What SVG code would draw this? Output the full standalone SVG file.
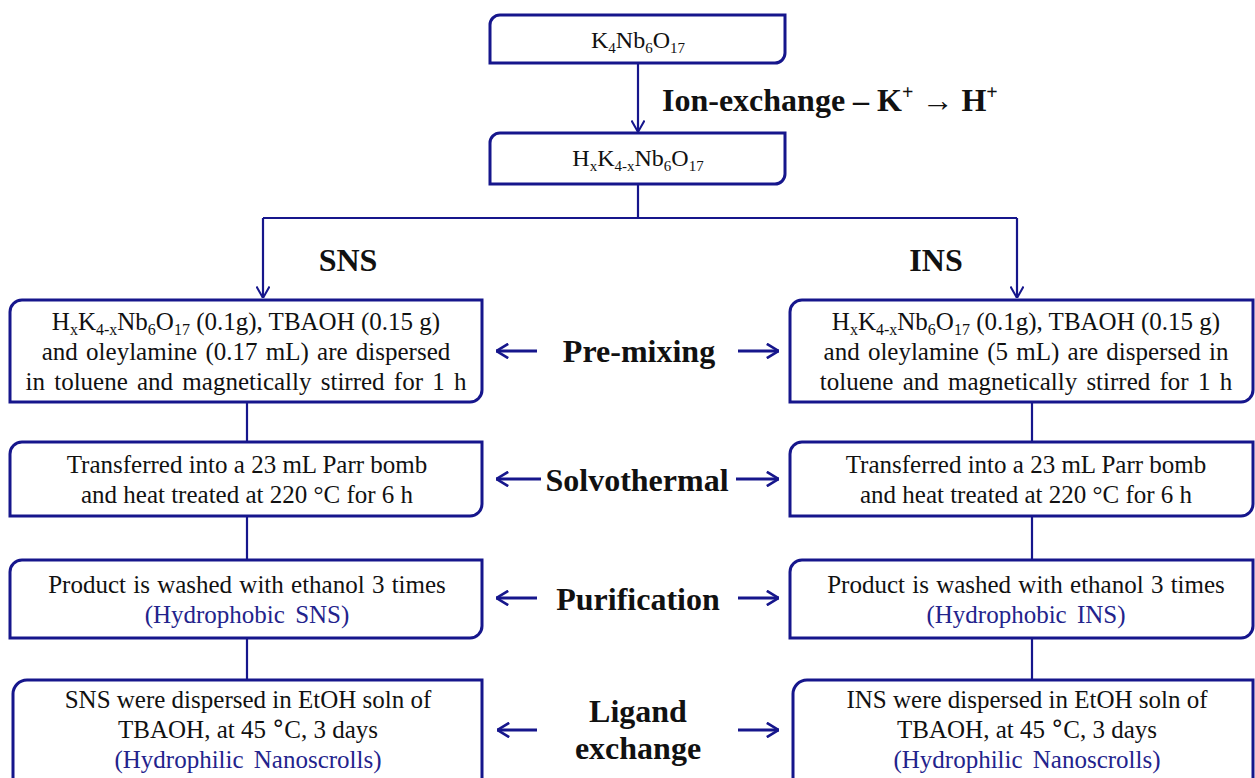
<svg xmlns="http://www.w3.org/2000/svg" width="1255" height="778" viewBox="0 0 1255 778">
<style>
.box{fill:#fff;stroke:#16168c;stroke-width:3}
.ln{fill:none;stroke:#16168c;stroke-width:2.2}
.ln2{fill:none;stroke:#16168c;stroke-width:2.8}
.t{font-family:"Liberation Serif","Times New Roman",serif;font-size:25px;fill:#111;text-anchor:middle}
.b{font-family:"Liberation Serif","Times New Roman",serif;font-weight:bold;font-size:32px;fill:#111;text-anchor:middle}
.blue{fill:#23238c}
</style>
<defs>
<marker id="ah" viewBox="0 0 12 14" refX="12" refY="7" markerWidth="12" markerHeight="14" markerUnits="userSpaceOnUse" orient="auto">
<path d="M0.5,0.5 L12,7 L0.5,13.5" fill="none" stroke="#16168c" stroke-width="2"/>
</marker>
<marker id="ah2" viewBox="0 0 13 16" refX="13" refY="8" markerWidth="13" markerHeight="16" markerUnits="userSpaceOnUse" orient="auto">
<path d="M0.8,0.8 L12.5,8 L0.8,15.2" fill="none" stroke="#16168c" stroke-width="2.6"/>
</marker>
</defs>
<rect width="1255" height="778" fill="#fff"/>

<g id="connectors">
<path class="ln" d="M638,63 V132" marker-end="url(#ah)"/>
<path class="ln" d="M638,184 V218 M263,218 H1017"/>
<path class="ln" d="M263,218 V298" marker-end="url(#ah)"/>
<path class="ln" d="M1017,218 V298" marker-end="url(#ah)"/>
<path class="ln" d="M247,402 V442 M247,516 V560 M247,638 V680"/>
<path class="ln" d="M1032,402 V442 M1032,516 V560 M1032,638 V680"/>
<path class="ln2" d="M537,351 H496" marker-end="url(#ah2)"/>
<path class="ln2" d="M738,351 H779" marker-end="url(#ah2)"/>
<path class="ln2" d="M541,479 H496" marker-end="url(#ah2)"/>
<path class="ln2" d="M736,479 H779" marker-end="url(#ah2)"/>
<path class="ln2" d="M537,598 H496" marker-end="url(#ah2)"/>
<path class="ln2" d="M738,598 H779" marker-end="url(#ah2)"/>
<path class="ln2" d="M537,730 H497" marker-end="url(#ah2)"/>
<path class="ln2" d="M738,730 H779" marker-end="url(#ah2)"/>
</g>

<g id="n_k4nb6o17">
<path class="box" d="M490,63 V25 A10,10 0 0 1 500,15 H785 V53 A10,10 0 0 1 775,63 Z"/>
<text class="t" x="638" y="48" style="font-size:24px">K<tspan dy="5" font-size="15">4</tspan><tspan dy="-5">Nb</tspan><tspan dy="5" font-size="15">6</tspan><tspan dy="-5">O</tspan><tspan dy="5" font-size="15">17</tspan></text>
</g>

<g id="n_hxk">
<path class="box" d="M490,184 V143 A10,10 0 0 1 500,133 H785 V174 A10,10 0 0 1 775,184 Z"/>
<text class="t" x="638" y="166" style="font-size:24px">H<tspan dy="5" font-size="15">x</tspan><tspan dy="-5">K</tspan><tspan dy="5" font-size="15">4-x</tspan><tspan dy="-5">Nb</tspan><tspan dy="5" font-size="15">6</tspan><tspan dy="-5">O</tspan><tspan dy="5" font-size="15">17</tspan></text>
</g>

<g id="lbl_ion">
<text class="b" x="662" y="111" style="text-anchor:start">Ion-exchange – K<tspan dy="-12" font-size="20">+</tspan><tspan dy="12"> → H</tspan><tspan dy="-12" font-size="20">+</tspan></text>
</g>
<g id="lbl_sns"><text class="b" x="348" y="271">SNS</text></g>
<g id="lbl_ins"><text class="b" x="936" y="271">INS</text></g>

<g id="sns1">
<path class="box" d="M10,402 V312 A12,12 0 0 1 22,300 H482 V390 A12,12 0 0 1 470,402 Z"/>
<text class="t" x="246" y="330">H<tspan dy="5" font-size="16">x</tspan><tspan dy="-5">K</tspan><tspan dy="5" font-size="16">4-x</tspan><tspan dy="-5">Nb</tspan><tspan dy="5" font-size="16">6</tspan><tspan dy="-5">O</tspan><tspan dy="5" font-size="16">17</tspan><tspan dy="-5"> (0.1g), TBAOH (0.15 g)</tspan></text>
<text class="t" x="246" y="360" word-spacing="2">and oleylamine (0.17 mL) are dispersed</text>
<text class="t" x="246" y="390" word-spacing="3">in toluene and magnetically stirred for 1 h</text>
</g>
<g id="ins1">
<path class="box" d="M790,402 V312 A12,12 0 0 1 802,300 H1253 V390 A12,12 0 0 1 1241,402 Z"/>
<text class="t" x="1026" y="330">H<tspan dy="5" font-size="16">x</tspan><tspan dy="-5">K</tspan><tspan dy="5" font-size="16">4-x</tspan><tspan dy="-5">Nb</tspan><tspan dy="5" font-size="16">6</tspan><tspan dy="-5">O</tspan><tspan dy="5" font-size="16">17</tspan><tspan dy="-5"> (0.1g), TBAOH (0.15 g)</tspan></text>
<text class="t" x="1026" y="360" word-spacing="2">and oleylamine (5 mL) are dispersed in</text>
<text class="t" x="1026" y="390" word-spacing="3">toluene and magnetically stirred for 1 h</text>
</g>

<g id="sns2">
<path class="box" d="M10,516 V454 A12,12 0 0 1 22,442 H482 V504 A12,12 0 0 1 470,516 Z"/>
<text class="t" x="247" y="473">Transferred into a 23 mL Parr bomb</text>
<text class="t" x="247" y="503">and heat treated at 220 °C for 6 h</text>
</g>
<g id="ins2">
<path class="box" d="M790,516 V454 A12,12 0 0 1 802,442 H1253 V504 A12,12 0 0 1 1241,516 Z"/>
<text class="t" x="1026" y="473">Transferred into a 23 mL Parr bomb</text>
<text class="t" x="1026" y="503">and heat treated at 220 °C for 6 h</text>
</g>

<g id="sns3">
<path class="box" d="M10,638 V572 A12,12 0 0 1 22,560 H482 V626 A12,12 0 0 1 470,638 Z"/>
<text class="t" x="247" y="593" word-spacing="1">Product is washed with ethanol 3 times</text>
<text class="t blue" x="247" y="623" word-spacing="4">(Hydrophobic SNS)</text>
</g>
<g id="ins3">
<path class="box" d="M790,638 V572 A12,12 0 0 1 802,560 H1253 V626 A12,12 0 0 1 1241,638 Z"/>
<text class="t" x="1026" y="593" word-spacing="1">Product is washed with ethanol 3 times</text>
<text class="t blue" x="1026" y="623" word-spacing="4">(Hydrophobic INS)</text>
</g>

<g id="sns4">
<path class="box" d="M13,800 V694 A14,14 0 0 1 27,680 H482 V786 A12,12 0 0 1 470,798 Z"/>
<text class="t" x="248" y="708">SNS were dispersed in EtOH soln of</text>
<text class="t" x="248" y="738">TBAOH, at 45 <tspan font-family="DejaVu Sans" font-size="24">°</tspan>C, 3 days</text>
<text class="t blue" x="248" y="768" word-spacing="4">(Hydrophilic Nanoscrolls)</text>
</g>
<g id="ins4">
<path class="box" d="M793,800 V694 A14,14 0 0 1 807,680 H1253 V786 A12,12 0 0 1 1241,798 Z"/>
<text class="t" x="1027" y="708">INS were dispersed in EtOH soln of</text>
<text class="t" x="1027" y="738">TBAOH, at 45 <tspan font-family="DejaVu Sans" font-size="24">°</tspan>C, 3 days</text>
<text class="t blue" x="1027" y="768" word-spacing="4">(Hydrophilic Nanoscrolls)</text>
</g>

<g id="lbl_premix"><text class="b" x="639" y="362">Pre-mixing</text></g>
<g id="lbl_solvo"><text class="b" x="637" y="491">Solvothermal</text></g>
<g id="lbl_purif"><text class="b" x="638" y="610">Purification</text></g>
<g id="lbl_ligand"><text class="b" x="638" y="722">Ligand</text><text class="b" x="638" y="759">exchange</text></g>
</svg>
